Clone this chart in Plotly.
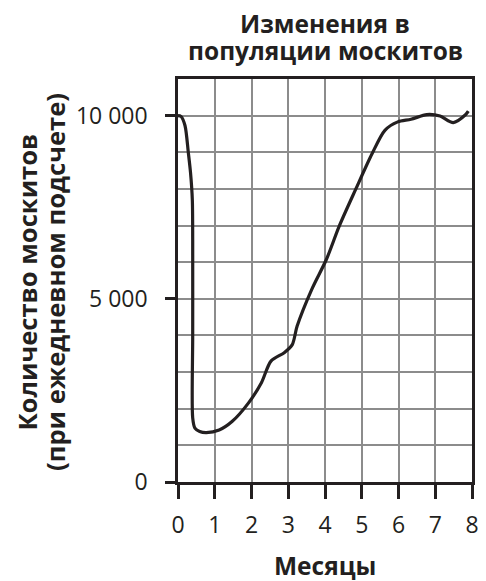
import plotly.graph_objects as go

# Data
months = [0.0, 0.08, 0.19, 0.28, 0.34, 0.39, 0.40, 0.40, 0.40, 0.46, 0.59, 0.77, 1.12, 1.47,
          1.92, 2.27, 2.53, 2.89, 3.11, 3.24, 3.64, 4.04, 4.39, 4.84, 5.28, 5.63,
          5.98, 6.34, 6.77, 7.13, 7.49, 7.83, 7.90]
mosquitoes = [10000, 9980, 9730, 9000, 8450, 7700, 6600, 4000, 1750, 1470, 1380, 1350, 1420, 1650,
              2160, 2710, 3300, 3530, 3750, 4250, 5260, 6080, 6990, 8000, 8960, 9600,
              9830, 9900, 10030, 9990, 9810, 10030, 10120]

x_ticks = [0, 1, 2, 3, 4, 5, 6, 7, 8]
y_tickvals = [0, 5000, 10000]
y_ticktext = ["0", "5 000", "10 000"]

title_lines = ["Изменения в", "популяции москитов"]
x_title = "Месяцы"
y_title_lines = ["Количество москитов", "(при ежедневном подсчете)"]

ink = "#231f20"
grid = "#8c8c8c"
font_family = "Open Sans"

fig = go.Figure()
fig.add_trace(go.Scatter(
    x=months, y=mosquitoes, mode="lines",
    line=dict(color=ink, width=3.2, shape="spline", smoothing=0.8),
    hoverinfo="skip", showlegend=False,
))

# page body has an 8px margin; figure placed at (8, 8)
OFF = 8
W, H = 486 - OFF, 581 - OFF
L, R, T, B = 178 - OFF, 7, 79 - OFF, 99

fig.update_layout(
    width=W, height=H,
    margin=dict(l=L, r=R, t=T, b=B),
    paper_bgcolor="white", plot_bgcolor="white",
    font=dict(family=font_family, color=ink, size=23),
    showlegend=False,
)

fig.update_xaxes(
    range=[0, 8], tickvals=x_ticks, ticktext=[str(t) for t in x_ticks],
    showgrid=True, gridcolor=grid, gridwidth=2,
    showline=True, linecolor=ink, linewidth=2.5, mirror=True,
    ticks="outside", ticklen=14, tickwidth=2.5, tickcolor=ink,
    tickfont=dict(size=23, family=font_family, color=ink),
    ticklabelstandoff=7,
    zeroline=False,
)
fig.update_yaxes(
    range=[0, 11000], tickvals=y_tickvals, ticktext=y_ticktext,
    showgrid=True, gridcolor=grid, gridwidth=2,
    minor=dict(dtick=1000, showgrid=True, gridcolor=grid, gridwidth=2, ticks=""),
    showline=True, linecolor=ink, linewidth=2.5, mirror=True,
    ticks="outside", ticklen=10, tickwidth=2.5, tickcolor=ink,
    tickfont=dict(size=23, family=font_family, color=ink),
    ticklabelstandoff=13,
    zeroline=False,
)

pw = W - L - R
ph = H - T - B

def px_x(page_x):
    return (page_x - OFF - L) / pw

def px_y(page_y):
    return (H - B - (page_y - OFF)) / ph

for line, cy in zip(title_lines, [24, 50]):
    fig.add_annotation(
        text="<b>%s</b>" % line, xref="paper", yref="paper", x=0.5, y=px_y(cy),
        xanchor="center", yanchor="middle", showarrow=False,
        font=dict(size=24.5, family=font_family, color=ink),
    )
fig.add_annotation(
    text="<b>%s</b>" % x_title, xref="paper", yref="paper", x=0.5, y=px_y(565),
    xanchor="center", yanchor="middle", showarrow=False,
    font=dict(size=24.5, family=font_family, color=ink),
)
for line, cx in zip(y_title_lines, [23, 52]):
    fig.add_annotation(
        text="<b>%s</b>" % line, xref="paper", yref="paper", x=px_x(cx), y=px_y(282),
        xanchor="center", yanchor="middle", textangle=-90, showarrow=False,
        font=dict(size=25.6, family=font_family, color=ink),
    )

fig.write_html("out.html")
